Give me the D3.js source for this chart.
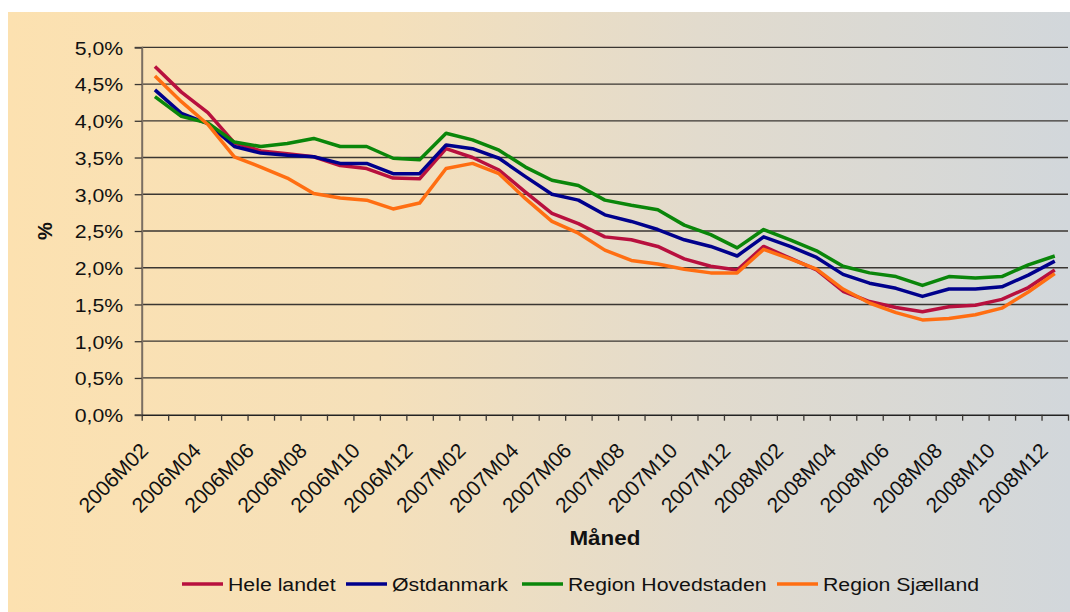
<!DOCTYPE html>
<html>
<head>
<meta charset="utf-8">
<script src="https://cdn.jsdelivr.net/npm/d3@7"></script>
<style>
  body { margin: 0; background: #fff; }
  svg { display: block; font-family: "Liberation Sans", Arial, sans-serif; }
</style>
</head>
<body>
<svg id="chart" width="1070" height="612"></svg>
<script>
// Months on the category axis
const months = [
  "2006M02", "2006M03", "2006M04", "2006M05", "2006M06", "2006M07", "2006M08",
  "2006M09", "2006M10", "2006M11", "2006M12", "2007M01", "2007M02", "2007M03",
  "2007M04", "2007M05", "2007M06", "2007M07", "2007M08", "2007M09", "2007M10",
  "2007M11", "2007M12", "2008M01", "2008M02", "2008M03", "2008M04", "2008M05",
  "2008M06", "2008M07", "2008M08", "2008M09", "2008M10", "2008M11", "2008M12"
];

// Only every other month gets a label
const xTickLabels = [
  "2006M02", "2006M04", "2006M06", "2006M08", "2006M10", "2006M12",
  "2007M02", "2007M04", "2007M06", "2007M08", "2007M10", "2007M12",
  "2008M02", "2008M04", "2008M06", "2008M08", "2008M10", "2008M12"
];

const yTicks = [0, 0.5, 1, 1.5, 2, 2.5, 3, 3.5, 4, 4.5, 5];
const yTickLabels = ["0,0%", "0,5%", "1,0%", "1,5%", "2,0%", "2,5%", "3,0%", "3,5%", "4,0%", "4,5%", "5,0%"];

const seriesNames = ["Hele landet", "Østdanmark", "Region Hovedstaden", "Region Sjælland"];
const seriesColors = ["#B8103E", "#00008C", "#0A860A", "#FF6E12"];

const heleLandet = [4.74, 4.39, 4.11, 3.70, 3.59, 3.55, 3.51, 3.39, 3.35, 3.22, 3.21, 3.62, 3.50, 3.33,
  3.03, 2.74, 2.60, 2.42, 2.38, 2.29, 2.12, 2.02, 1.97, 2.29, 2.13, 1.97, 1.68, 1.54, 1.46, 1.40,
  1.47, 1.49, 1.57, 1.73, 1.97];
const ostdanmark = [4.42, 4.10, 3.96, 3.65, 3.56, 3.53, 3.51, 3.42, 3.42, 3.28, 3.28, 3.67, 3.62, 3.49,
  3.24, 3.00, 2.92, 2.72, 2.63, 2.52, 2.38, 2.29, 2.16, 2.42, 2.29, 2.14, 1.91, 1.79, 1.72, 1.61,
  1.71, 1.71, 1.74, 1.90, 2.09];
const hovedstaden = [4.33, 4.06, 3.97, 3.71, 3.65, 3.69, 3.76, 3.65, 3.65, 3.49, 3.47, 3.83, 3.74, 3.60,
  3.37, 3.19, 3.12, 2.92, 2.85, 2.79, 2.58, 2.45, 2.27, 2.52, 2.38, 2.23, 2.02, 1.93, 1.88, 1.76,
  1.88, 1.86, 1.88, 2.04, 2.16];
const sjaelland = [4.61, 4.26, 3.95, 3.51, 3.37, 3.22, 3.01, 2.95, 2.92, 2.80, 2.88, 3.35, 3.42, 3.28,
  2.94, 2.63, 2.47, 2.24, 2.10, 2.05, 1.98, 1.93, 1.93, 2.25, 2.12, 1.98, 1.71, 1.52, 1.39, 1.29,
  1.31, 1.36, 1.45, 1.67, 1.92];

const seriesValues = [heleLandet, ostdanmark, hovedstaden, sjaelland];

// The picture is slightly stretched sideways, so flat text gets the same stretch
const stretch = 1.12;

const svg = d3.select("#chart");
const plot = {left: 141.7, right: 1068, top: 47.3, bottom: 414.7};

// Background gradient, orange on the left to grey on the right
const defs = svg.append("defs");
const grad = defs.append("linearGradient")
  .attr("id", "bg")
  .attr("x1", "0").attr("x2", "1").attr("y1", "0").attr("y2", "0");
grad.append("stop").attr("offset", "0%").attr("stop-color", "#FCE1B0");
grad.append("stop").attr("offset", "35%").attr("stop-color", "#F5E0BA");
grad.append("stop").attr("offset", "65%").attr("stop-color", "#E2DBCD");
grad.append("stop").attr("offset", "100%").attr("stop-color", "#D2D7DB");

svg.append("rect")
  .attr("x", 8).attr("y", 12)
  .attr("width", 1062).attr("height", 600)
  .attr("fill", "url(#bg)");

const x = d3.scaleBand().domain(months).range([plot.left, plot.right]);
const xEdge = d3.scaleLinear().domain([0, months.length]).range([plot.left, plot.right]);
const y = d3.scaleLinear().domain([0, 5]).range([plot.bottom, plot.top]);

// Horizontal gridlines
svg.append("g")
  .selectAll("line")
  .data(yTicks.filter(d => d > 0))
  .join("line")
  .attr("x1", plot.left).attr("x2", plot.right)
  .attr("y1", d => y(d)).attr("y2", d => y(d))
  .attr("stroke", "#3a3632")
  .attr("stroke-width", 1.3);

// Y axis
const yAxis = svg.append("g")
  .attr("transform", `translate(${plot.left},0)`)
  .call(d3.axisLeft(y)
    .tickValues(yTicks)
    .tickSize(7)
    .tickFormat((d, i) => yTickLabels[i]));
yAxis.select(".domain").attr("stroke", "#7a6e62").attr("stroke-width", 2);
yAxis.selectAll(".tick line").attr("stroke", "#3a3632").attr("stroke-width", 1.3);
yAxis.selectAll(".tick text")
  .attr("x", -18.5 / stretch)
  .attr("dy", "0.36em")
  .attr("transform", `scale(${stretch},1)`)
  .attr("font-size", 19)
  .attr("fill", "#111");

// X axis: tick marks sit between the months
const xAxis = svg.append("g")
  .attr("transform", `translate(0,${plot.bottom})`)
  .call(d3.axisBottom(xEdge)
    .tickValues(d3.range(months.length + 1))
    .tickSize(6)
    .tickSizeOuter(0)
    .tickFormat(""));
xAxis.select(".domain").attr("stroke", "#222").attr("stroke-width", 1.5);
xAxis.selectAll(".tick line").attr("stroke", "#3a3632").attr("stroke-width", 1.3);

svg.append("g")
  .selectAll("text")
  .data(xTickLabels)
  .join("text")
  .attr("transform", d => `translate(${x(d) + x.bandwidth() / 2 - 5.5},452) rotate(-45)`)
  .attr("text-anchor", "end")
  .attr("font-size", 21)
  .attr("fill", "#111")
  .text(d => d);

// Axis titles
svg.append("text")
  .attr("transform", `translate(${(plot.left + plot.right) / 2},545) scale(${stretch},1)`)
  .attr("text-anchor", "middle")
  .attr("font-size", 20)
  .attr("font-weight", "bold")
  .attr("fill", "#111")
  .text("Måned");

svg.append("text")
  .attr("transform", `translate(52,${(plot.top + plot.bottom) / 2}) rotate(-90)`)
  .attr("text-anchor", "middle")
  .attr("font-size", 20)
  .attr("font-weight", "bold")
  .attr("fill", "#111")
  .text("%");

// Lines
const line = d3.line()
  .x((d, i) => x(months[i]) + x.bandwidth() / 2)
  .y(d => y(d));

svg.append("g")
  .selectAll("path")
  .data(seriesValues)
  .join("path")
  .attr("d", d => line(d))
  .attr("fill", "none")
  .attr("stroke", (d, i) => seriesColors[i])
  .attr("stroke-width", 3.5)
  .attr("stroke-linejoin", "round");

// Legend
const legendX = [182, 346, 522, 777];
const legend = svg.append("g")
  .selectAll("g")
  .data(seriesNames)
  .join("g")
  .attr("transform", (d, i) => `translate(${legendX[i]},584)`);

legend.append("line")
  .attr("x1", 0).attr("x2", 41)
  .attr("y1", 0).attr("y2", 0)
  .attr("stroke", (d, i) => seriesColors[i])
  .attr("stroke-width", 3.5);

legend.append("text")
  .attr("transform", `translate(46,7) scale(${stretch},1)`)
  .attr("font-size", 19)
  .attr("fill", "#111")
  .text(d => d);
</script>
</body>
</html>
